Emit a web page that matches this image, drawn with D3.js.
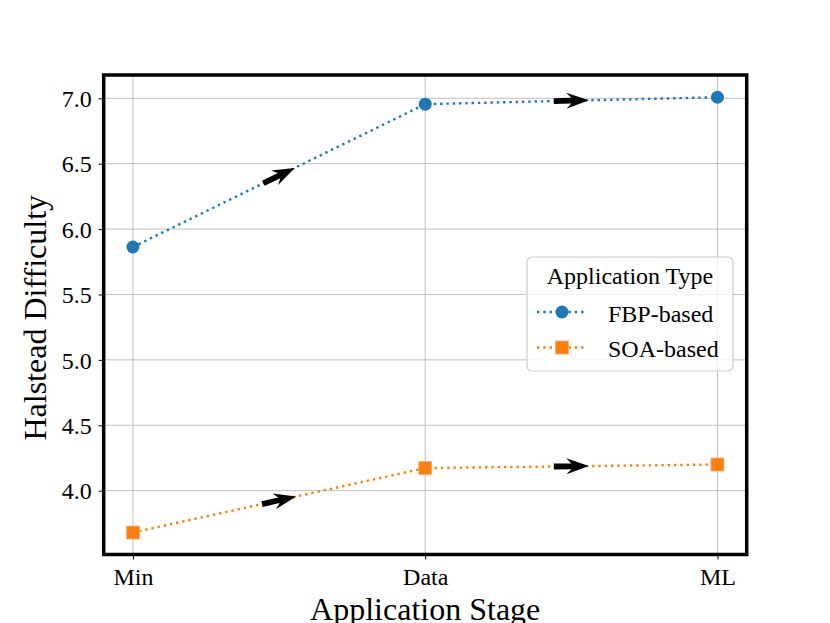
<!DOCTYPE html>
<html>
<head>
<meta charset="utf-8">
<script src="https://cdn.jsdelivr.net/npm/d3@7"></script>
<style>
  body { margin: 0; background: #fff; }
  svg { display: block; font-family: "Liberation Serif", "Times New Roman", serif; }
</style>
</head>
<body>
<div id="chart"></div>
<script>
// ── Data ──────────────────────────────────────────────
const stages = ["Min", "Data", "ML"];
const fbpValues = [5.863, 6.955, 7.008];
const soaValues = [3.680, 4.173, 4.200];
const yTicks = [4.0, 4.5, 5.0, 5.5, 6.0, 6.5, 7.0];
const seriesNames = ["FBP-based", "SOA-based"];
const seriesColors = ["#1f77b4", "#ff7f0e"];

// ── Layout ────────────────────────────────────────────
const W = 830, H = 623;
const plot = { left: 103.7, right: 746.7, top: 75, bottom: 554.5 };
const SERIF = "'Liberation Serif', 'Times New Roman', serif";

const svg = d3.select("#chart").append("svg")
    .attr("width", W)
    .attr("height", H);

svg.append("rect").attr("width", W).attr("height", H).attr("fill", "#fff");

const x = d3.scalePoint()
    .domain(stages)
    .range([plot.left, plot.right])
    .padding(0.1);

const y = d3.scaleLinear()
    .domain([3.512, 7.178])
    .range([plot.bottom, plot.top]);

// ── Grid ──────────────────────────────────────────────
const grid = svg.append("g");
grid.selectAll(".hg").data(yTicks).join("line")
    .attr("x1", plot.left).attr("x2", plot.right)
    .attr("y1", d => y(d)).attr("y2", d => y(d))
    .attr("stroke", "#b0b0b0").attr("stroke-width", 1).attr("opacity", 0.8);
grid.selectAll(".vg").data(stages).join("line")
    .attr("x1", d => x(d)).attr("x2", d => x(d))
    .attr("y1", plot.top).attr("y2", plot.bottom)
    .attr("stroke", "#b0b0b0").attr("stroke-width", 1).attr("opacity", 0.8);

// ── Axes ──────────────────────────────────────────────
const yAxis = svg.append("g")
    .attr("transform", `translate(${plot.left},0)`)
    .call(d3.axisLeft(y).tickValues(yTicks).tickFormat(d3.format(".1f")).tickSize(5).tickPadding(7));
const xAxis = svg.append("g")
    .attr("transform", `translate(0,${plot.bottom})`)
    .call(d3.axisBottom(x).tickSize(5).tickPadding(8));

[yAxis, xAxis].forEach(a => {
    a.attr("font-family", SERIF).attr("font-size", 24);
    a.select(".domain").remove();
    a.selectAll(".tick line").attr("stroke", "#000").attr("stroke-width", 1);
    a.selectAll(".tick text")
        .attr("fill", "#000")
        .attr("font-family", SERIF)
        .attr("font-size", 24);
});
yAxis.selectAll(".tick text").attr("dy", "0.34em");
xAxis.selectAll(".tick text").attr("dy", "0.72em");

// ── Series ────────────────────────────────────────────
const series = [fbpValues, soaValues];
const line = d3.line().x((d, i) => x(stages[i])).y(d => y(d));

series.forEach((vals, si) => {
    svg.append("path")
        .attr("d", line(vals))
        .attr("fill", "none")
        .attr("stroke", seriesColors[si])
        .attr("stroke-width", 2.4)
        .attr("stroke-dasharray", "2.4,3.9");
});

// arrows at midpoints of each segment
const arrowPath = "M17.5,0 L-5,-8 L0,-2.9 L-17.5,-2.9 L-17.5,2.9 L0,2.9 L-5,8 Z";
series.forEach(vals => {
    for (let i = 0; i < vals.length - 1; i++) {
        const x0 = x(stages[i]), y0 = y(vals[i]);
        const x1 = x(stages[i + 1]), y1 = y(vals[i + 1]);
        const ang = Math.atan2(y1 - y0, x1 - x0) * 180 / Math.PI;
        svg.append("path")
            .attr("d", arrowPath)
            .attr("fill", "#000")
            .attr("transform", `translate(${(x0 + x1) / 2},${(y0 + y1) / 2}) rotate(${ang})`);
    }
});

// markers
svg.selectAll(".fbp").data(fbpValues).join("circle")
    .attr("cx", (d, i) => x(stages[i]))
    .attr("cy", d => y(d))
    .attr("r", 6.5)
    .attr("fill", seriesColors[0]);
svg.selectAll(".soa").data(soaValues).join("rect")
    .attr("x", (d, i) => x(stages[i]) - 6.5)
    .attr("y", d => y(d) - 6.5)
    .attr("width", 13).attr("height", 13)
    .attr("fill", seriesColors[1])
    .attr("stroke", "#ffb070").attr("stroke-width", 0.8);

// ── Frame ─────────────────────────────────────────────
svg.append("rect")
    .attr("x", plot.left).attr("y", plot.top)
    .attr("width", plot.right - plot.left)
    .attr("height", plot.bottom - plot.top)
    .attr("fill", "none")
    .attr("stroke", "#000")
    .attr("stroke-width", 3.5);

// ── Labels ────────────────────────────────────────────
svg.append("text")
    .attr("x", (plot.left + plot.right) / 2)
    .attr("y", 620)
    .attr("text-anchor", "middle")
    .style("font-size", "32px")
    .text("Application Stage");

svg.append("text")
    .attr("transform", `translate(46,${(plot.top + plot.bottom) / 2 + 3}) rotate(-90)`)
    .attr("text-anchor", "middle")
    .style("font-size", "32px")
    .text("Halstead Difficulty");

// ── Legend ────────────────────────────────────────────
const lg = svg.append("g");
lg.append("rect")
    .attr("x", 527).attr("y", 257)
    .attr("width", 206).attr("height", 114)
    .attr("rx", 5)
    .attr("fill", "#fff").attr("fill-opacity", 0.8)
    .attr("stroke", "#cccccc").attr("stroke-width", 1.2);
lg.append("text")
    .attr("x", 630).attr("y", 284)
    .attr("text-anchor", "middle")
    .style("font-size", "24px")
    .text("Application Type");

seriesNames.forEach((name, i) => {
    const cy = 312 + i * 35.5;
    lg.append("line")
        .attr("x1", 537).attr("x2", 587)
        .attr("y1", cy).attr("y2", cy)
        .attr("stroke", seriesColors[i])
        .attr("stroke-width", 2.4)
        .attr("stroke-dasharray", "2.4,3.9");
    if (i === 0) {
        lg.append("circle").attr("cx", 562).attr("cy", cy).attr("r", 6.5).attr("fill", seriesColors[i]);
    } else {
        lg.append("rect").attr("x", 555.5).attr("y", cy - 6.5).attr("width", 13).attr("height", 13)
            .attr("fill", seriesColors[i]).attr("stroke", "#ffb070").attr("stroke-width", 0.8);
    }
    lg.append("text")
        .attr("x", 608).attr("y", cy + 9.5)
        .style("font-size", "24px")
        .text(name);
});
</script>
</body>
</html>
